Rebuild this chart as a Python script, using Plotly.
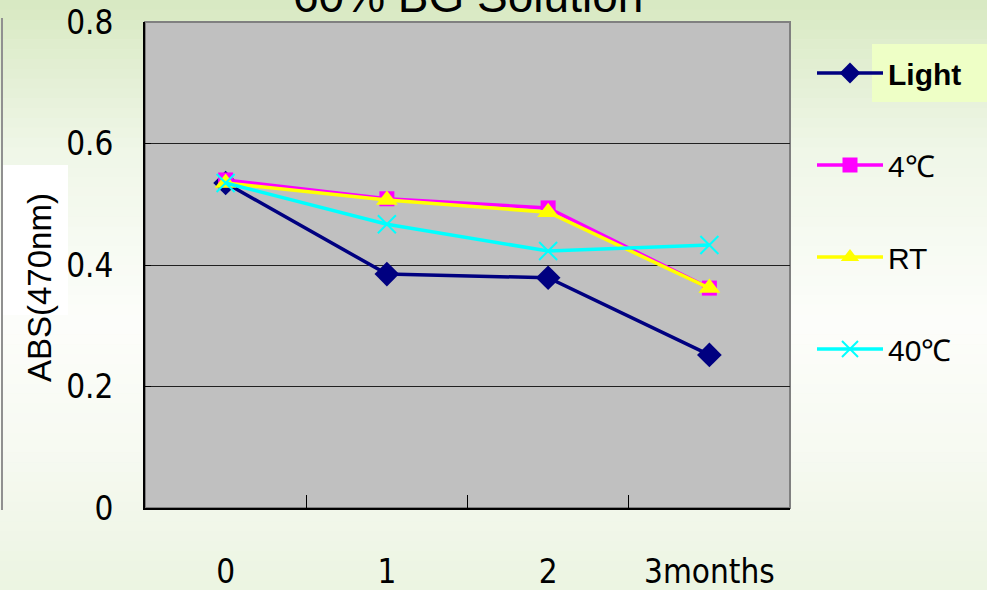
import plotly.graph_objects as go

# data
months = ["0", "1", "2", "3months"]
light = [0.535, 0.385, 0.379, 0.252]
c4 = [0.540, 0.509, 0.494, 0.362]
rt = [0.535, 0.507, 0.487, 0.362]
c40 = [0.535, 0.467, 0.423, 0.433]

W, H = 987, 590
L, R, T, B = 145, 790, 22, 508


def px_x(x):
    return (x - L) / (R - L)


def px_y(y):
    return (B - y) / (B - T)


fig = go.Figure()

series = [
    ("<b>Light</b>", light, "#000080", dict(symbol="diamond", size=19)),
    ("4℃", c4, "#ff00ff", dict(symbol="square", size=15)),
    ("RT", rt, "#ffff00", dict(symbol="triangle-up", size=19)),
    ("40℃", c40, "#00ffff", dict(symbol="x-thin", size=18, line=dict(width=2, color="#00ffff"))),
]
for i, (name, vals, col, mk) in enumerate(series):
    fig.add_trace(go.Scatter(
        x=months, y=vals, name=name, mode="lines+markers",
        line=dict(color=col, width=3.5),
        marker=dict(color=col, **mk),
        legendgroup=str(i),
    ))

# background gradient (stripes)
stops = [(0, (216, 233, 194)), (150, (240, 247, 232)), (320, (253, 254, 251)),
         (450, (247, 250, 242)), (590, (236, 245, 226))]
shapes = []
n = 60
for k in range(n):
    y0 = H * k / n
    y1 = H * (k + 1) / n
    ym = (y0 + y1) / 2
    for (a, ca), (b, cb) in zip(stops[:-1], stops[1:]):
        if a <= ym <= b:
            t = (ym - a) / (b - a)
            c = tuple(int(ca[j] + (cb[j] - ca[j]) * t) for j in range(3))
            break
    shapes.append(dict(type="rect", xref="paper", yref="paper", layer="below",
                       x0=px_x(0), x1=px_x(W), y0=px_y(y1 + 0.5), y1=px_y(y0),
                       fillcolor="rgb(%d,%d,%d)" % c, line=dict(width=0)))

# plot area
shapes.append(dict(type="rect", xref="paper", yref="paper", layer="below",
                   x0=0, x1=1, y0=0, y1=1, fillcolor="#c0c0c0",
                   line=dict(color="#808080", width=2)))
# white box behind y title
shapes.append(dict(type="rect", xref="paper", yref="paper", layer="below",
                   x0=px_x(3), x1=px_x(68), y0=px_y(315), y1=px_y(165),
                   fillcolor="white", line=dict(width=0)))
# highlight box behind "Light"
shapes.append(dict(type="rect", xref="paper", yref="paper", layer="below",
                   x0=px_x(872), x1=px_x(990), y0=px_y(102), y1=px_y(44),
                   fillcolor="#eeffc6", line=dict(width=0)))
# edge of neighbouring panel on the left
shapes.append(dict(type="line", xref="paper", yref="paper",
                   x0=px_x(2), x1=px_x(2), y0=px_y(18), y1=px_y(510),
                   line=dict(color="#909090", width=2)))

tick_font = dict(family="Liberation Sans Narrow, DejaVu Sans Condensed, Arial Narrow, sans-serif",
                 size=33, color="black")

fig.update_layout(
    width=W, height=H,
    margin=dict(l=L, r=W - R, t=T, b=H - B, autoexpand=False),
    paper_bgcolor="#eef5e6",
    plot_bgcolor="rgba(0,0,0,0)",
    shapes=shapes,
    showlegend=True,
    legend=dict(
        x=px_x(812), y=px_y(47), xanchor="left", yanchor="top",
        font=dict(family="Liberation Sans, Arial, sans-serif", size=30, color="black"),
        bgcolor="rgba(0,0,0,0)", tracegroupgap=50, itemwidth=66,
    ),
    xaxis=dict(
        type="category", range=[-0.5, 3.5],
        tickson="boundaries", ticks="inside", ticklen=13, tickcolor="black", tickwidth=1,
        showline=True, linecolor="black", linewidth=2,
        showgrid=False, tickfont=tick_font, ticklabelstandoff=33,
    ),
    yaxis=dict(
        range=[0, 0.8],
        tickvals=[0, 0.2, 0.4, 0.6, 0.8], ticktext=["0", "0.2", "0.4", "0.6", "0.8"],
        ticks="inside", ticklen=6, tickcolor="black",
        showline=True, linecolor="black", linewidth=2,
        showgrid=True, gridcolor="#202020", gridwidth=1,
        zeroline=False, tickfont=tick_font, ticklabelstandoff=23,
    ),
    annotations=[
        dict(text="ABS(470nm)", textangle=-90, xref="paper", yref="paper",
             x=px_x(39), y=px_y(288), xanchor="center", yanchor="middle", showarrow=False,
             font=dict(family="Liberation Sans, Arial, sans-serif", size=33, color="black")),
        dict(text="60% BG Solution", xref="paper", yref="paper",
             x=0.5, y=px_y(24), xanchor="center", yanchor="bottom", showarrow=False,
             font=dict(family="Liberation Sans, Arial, sans-serif", size=46, color="black")),
    ],
)

fig.write_html("out.html", config={"displayModeBar": False},
               post_script="document.body.style.margin='0';")
